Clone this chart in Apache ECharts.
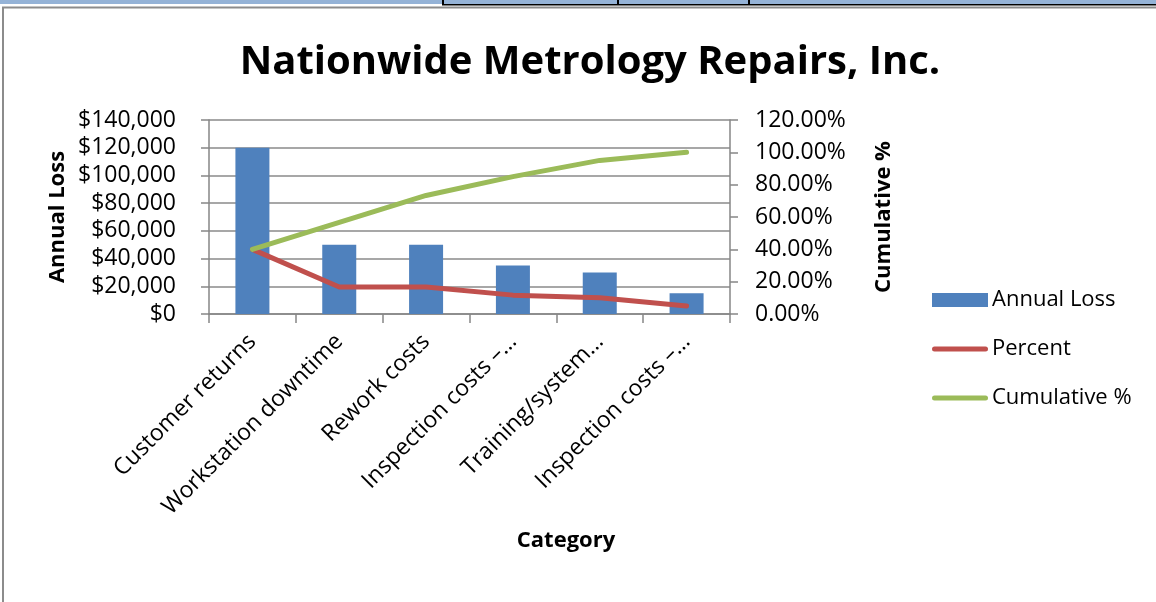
<!DOCTYPE html>
<html>
<head>
<meta charset="utf-8">
<script src="https://cdn.jsdelivr.net/npm/echarts@6/dist/echarts.min.js"></script>
<style>
  html, body { margin: 0; padding: 0; background: #ffffff; }
  #chart { width: 1156px; height: 602px; }
</style>
</head>
<body>
<div id="chart"></div>
<script>
// Loss categories, in descending order of annual loss
const categories = [
  'Customer returns',
  'Workstation downtime',
  'Rework costs',
  'Inspection costs –…',
  'Training/system…',
  'Inspection costs –…'
];
// Annual loss per category (USD)
const annualLoss = [120000, 50000, 50000, 35000, 30000, 15000];
// Share of total loss per category (fraction)
const percentShare = [0.40, 0.1667, 0.1667, 0.1167, 0.10, 0.05];
// Running cumulative share (fraction)
const cumulativeShare = [0.40, 0.5667, 0.7333, 0.85, 0.95, 1.00];

const FONT = '"Open Sans", "Noto Sans", sans-serif';
const GRID_GRAY = '#8a8a8a';
const AXIS_GRAY = '#868686';
const LABEL_SIZE = 23;

// rounded thick stroke used as the legend key of the line series
const LINE_KEY = 'path://M2.5,0 H53.5 A2.5,2.5 0 0 1 53.5,5 H2.5 A2.5,2.5 0 0 1 2.5,0 Z';

const chart = echarts.init(document.getElementById('chart'), null, { renderer: 'canvas' });

const option = {
  animation: false,
  backgroundColor: '#ffffff',
  textStyle: { fontFamily: FONT, color: '#000' },
  title: {
    text: 'Nationwide Metrology Repairs, Inc.',
    left: 585,
    textAlign: 'center',
    top: 38,
    textStyle: { fontFamily: FONT, fontSize: 40, fontWeight: 'bold', color: '#000' }
  },
  legend: {
    orient: 'vertical',
    left: 932,
    top: 289,
    padding: 0,
    itemWidth: 56,
    itemHeight: 14,
    itemGap: 27,
    textStyle: { fontFamily: FONT, fontSize: 22, color: '#000', padding: [0, 0, 0, -1] },
    data: [
      { name: 'Annual Loss', icon: 'rect' },
      { name: 'Percent', icon: LINE_KEY },
      { name: 'Cumulative %', icon: LINE_KEY }
    ]
  },
  grid: { left: 209, right: 426, top: 120, bottom: 288, containLabel: false },
  xAxis: {
    type: 'category',
    data: categories,
    boundaryGap: true,
    axisLine: { show: true, lineStyle: { color: AXIS_GRAY, width: 1.5 } },
    axisTick: { show: true, length: 9, lineStyle: { color: AXIS_GRAY, width: 1.5 } },
    axisLabel: {
      interval: 0,
      rotate: 45,
      margin: 24,
      fontFamily: FONT,
      fontSize: LABEL_SIZE,
      color: '#000'
    }
  },
  yAxis: [
    {
      type: 'value',
      min: 0,
      max: 140000,
      interval: 20000,
      name: 'Annual Loss',
      nameLocation: 'middle',
      nameGap: 140,
      nameTextStyle: { fontFamily: FONT, fontSize: 22, fontWeight: 'bold', color: '#000' },
      axisLine: { show: true, lineStyle: { color: AXIS_GRAY, width: 1.5 } },
      axisTick: { show: true, length: 8, lineStyle: { color: AXIS_GRAY, width: 1.5 } },
      splitLine: { show: true, lineStyle: { color: GRID_GRAY, width: 1.5 } },
      axisLabel: {
        margin: 33,
        fontFamily: FONT,
        fontSize: LABEL_SIZE,
        color: '#000',
        formatter: v => '$' + v.toLocaleString('en-US')
      }
    },
    {
      type: 'value',
      min: 0,
      max: 1.2,
      interval: 0.2,
      position: 'right',
      name: 'Cumulative %',
      nameLocation: 'middle',
      nameGap: 143,
      nameTextStyle: { fontFamily: FONT, fontSize: 22, fontWeight: 'bold', color: '#000' },
      axisLine: { show: true, lineStyle: { color: AXIS_GRAY, width: 1.5 } },
      axisTick: { show: true, length: 8, lineStyle: { color: AXIS_GRAY, width: 1.5 } },
      splitLine: { show: false },
      axisLabel: {
        margin: 25,
        fontFamily: FONT,
        fontSize: LABEL_SIZE,
        color: '#000',
        formatter: v => (v * 100).toFixed(2) + '%'
      }
    }
  ],
  series: [
    {
      name: 'Annual Loss',
      type: 'bar',
      yAxisIndex: 0,
      data: annualLoss,
      barWidth: 34,
      itemStyle: { color: '#4F81BD' }
    },
    {
      name: 'Percent',
      type: 'line',
      yAxisIndex: 1,
      data: percentShare,
      symbol: 'none',
      color: '#C0504D',
      lineStyle: { color: '#C0504D', width: 5, cap: 'round', join: 'round' }
    },
    {
      name: 'Cumulative %',
      type: 'line',
      yAxisIndex: 1,
      data: cumulativeShare,
      symbol: 'none',
      color: '#9BBB59',
      lineStyle: { color: '#9BBB59', width: 5, cap: 'round', join: 'round' }
    }
  ],
  graphic: [
    // spreadsheet header strip above the chart object
    { type: 'rect', shape: { x: 0, y: 0, width: 1156, height: 4 }, style: { fill: '#95B3D7' }, silent: true },
    { type: 'rect', shape: { x: 442, y: 4, width: 714, height: 1.5 }, style: { fill: '#000' }, silent: true },
    { type: 'rect', shape: { x: 442, y: 0, width: 2, height: 5 }, style: { fill: '#000' }, silent: true },
    { type: 'rect', shape: { x: 617, y: 0, width: 2, height: 5 }, style: { fill: '#000' }, silent: true },
    { type: 'rect', shape: { x: 748, y: 0, width: 2, height: 5 }, style: { fill: '#000' }, silent: true },
    // chart object frame
    { type: 'rect', shape: { x: 3, y: 7.5, width: 1160, height: 600 }, style: { fill: null, stroke: '#8c8c8c', lineWidth: 2 }, silent: true },
    // category axis title
    {
      type: 'text',
      x: 566,
      y: 541,
      style: {
        text: 'Category',
        fontFamily: FONT,
        fontSize: 22,
        fontWeight: 'bold',
        fill: '#000',
        align: 'center',
        verticalAlign: 'middle'
      },
      silent: true
    }
  ]
};

chart.setOption(option);
</script>
</body>
</html>
